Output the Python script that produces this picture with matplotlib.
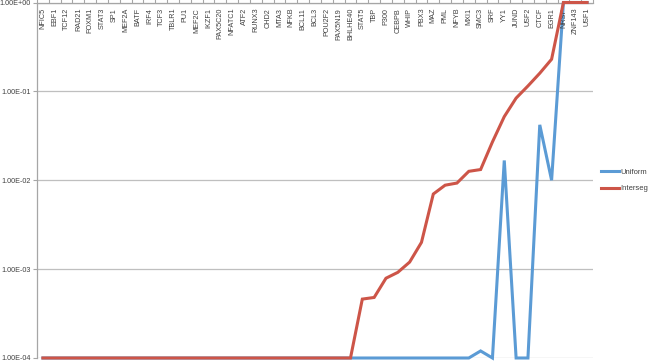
import numpy as np
import matplotlib
matplotlib.use("Agg")
import matplotlib.pyplot as plt
from matplotlib.ticker import FixedLocator, NullLocator, FuncFormatter

factors = ["NFIC5", "EBF1", "TCF12", "RAD21", "FOXM1", "STAT3", "SP1", "MEF2A",
           "BATF", "IRF4", "TCF3", "TBLR1", "PU1", "MEF2C", "IKZF1", "PAX5C20",
           "NFATC1", "ATF2", "RUNX3", "CHD2", "MTA3", "NFKB", "BCL11", "BCL3",
           "POU2F2", "PAX5N19", "BHLHE40", "STAT5", "TBP", "P300", "CEBPB", "WHIP",
           "PBX3", "MAZ", "PML", "NFYB", "MXI1", "SMC3", "SRF", "YY1", "JUND",
           "USF2", "CTCF", "EGR1", "NRSF", "ZNF143", "USF1"]

uniform = [1e-4, 1e-4, 1e-4, 1e-4, 1e-4, 1e-4, 1e-4, 1e-4, 1e-4, 1e-4,
           1e-4, 1e-4, 1e-4, 1e-4, 1e-4, 1e-4, 1e-4, 1e-4, 1e-4, 1e-4,
           1e-4, 1e-4, 1e-4, 1e-4, 1e-4, 1e-4, 1e-4, 1e-4, 1e-4, 1e-4,
           1e-4, 1e-4, 1e-4, 1e-4, 1e-4, 1e-4, 1e-4, 1.2e-4, 1e-4, 1.67e-2,
           1e-4, 1e-4, 4.2e-2, 1.0e-2, 1.0, 1.0, 1.0]

interseg = [1e-4, 1e-4, 1e-4, 1e-4, 1e-4, 1e-4, 1e-4, 1e-4, 1e-4, 1e-4,
            1e-4, 1e-4, 1e-4, 1e-4, 1e-4, 1e-4, 1e-4, 1e-4, 1e-4, 1e-4,
            1e-4, 1e-4, 1e-4, 1e-4, 1e-4, 1e-4, 1e-4, 4.6e-4, 4.8e-4, 7.9e-4,
            9.2e-4, 1.2e-3, 2.0e-3, 7.0e-3, 8.8e-3, 9.3e-3, 1.26e-2, 1.32e-2, 2.7e-2, 5.2e-2,
            8.4e-2, 1.15e-1, 1.6e-1, 2.3e-1, 1.0, 1.0, 1.0]

yticks = [1e-4, 1e-3, 1e-2, 1e-1, 1.0]

plt.rcParams['font.family'] = ['Liberation Sans', 'DejaVu Sans']

fig = plt.figure(figsize=(6.48, 3.63), dpi=100)
ax = fig.add_axes([37 / 648, 1 - 358 / 363, 556 / 648, 355.5 / 363])

x = np.arange(len(factors))
ax.plot(x, uniform, color='#5B9BD5', lw=2.2, label='Uniform', clip_on=False,
        solid_joinstyle='miter', zorder=3)
ax.plot(x, interseg, color='#CD5548', lw=2.2, label='Interseg', clip_on=False,
        solid_joinstyle='miter', zorder=4)

ax.set_yscale('log')
ax.set_ylim(1e-4, 1)
ax.set_xlim(-0.5, len(factors) - 0.5)

ax.yaxis.set_major_locator(FixedLocator(yticks))
ax.yaxis.set_minor_locator(NullLocator())
ax.yaxis.set_major_formatter(FuncFormatter(lambda v, p: f"{v:.2E}"))
ax.tick_params(axis='y', direction='out', length=3, width=0.8, color='#A6A6A6',
               labelsize=5.2, labelcolor='#404040', pad=1.5)
ax.grid(axis='y', color='#BFBFBF', lw=0.9)
ax.set_axisbelow(True)

# category axis along the top, ticks between categories, labels inside
ax.xaxis.set_major_locator(FixedLocator(x))
ax.xaxis.set_minor_locator(FixedLocator(np.arange(len(factors) + 1) - 0.5))
ax.tick_params(axis='x', which='both', bottom=False, top=False,
               labelbottom=False, labeltop=False)
ax.tick_params(axis='x', which='minor', top=True, direction='out', length=3,
               width=0.8, color='#A6A6A6')
for i, name in enumerate(factors):
    ax.text(i, 0.985, name, transform=ax.get_xaxis_transform(), rotation=90,
            ha='center', va='top', fontsize=5.2, color='#404040')

for side in ['right', 'bottom']:
    ax.spines[side].set_visible(False)
for side in ['left', 'top']:
    ax.spines[side].set_color('#A6A6A6')
    ax.spines[side].set_linewidth(0.9)

ax.legend(loc='center left', bbox_to_anchor=(1.015, 0.5), frameon=False,
          fontsize=5.5, handlelength=2.3, handletextpad=0.2, labelspacing=1.2,
          borderaxespad=0, borderpad=0, labelcolor='#404040')

fig.savefig("out.png", dpi=100)
